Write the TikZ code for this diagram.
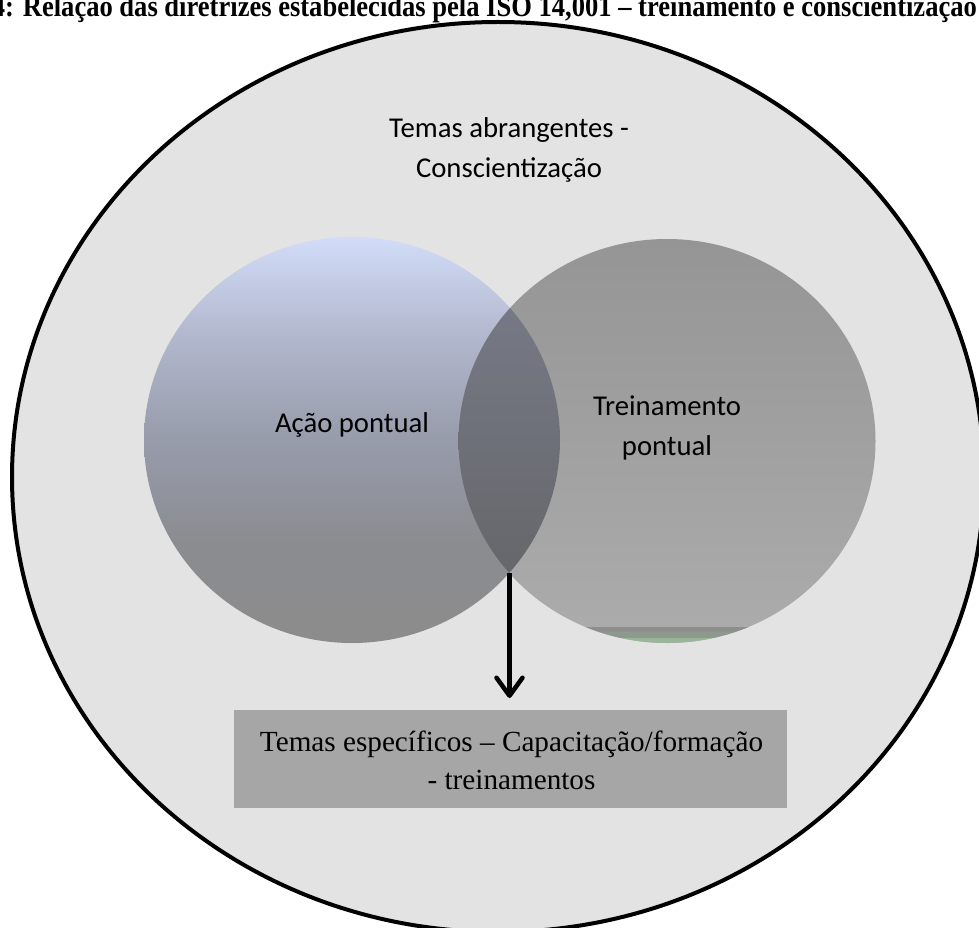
\documentclass[tikz,border=0pt]{standalone}
\usepackage{fontspec}
\setmainfont{Liberation Serif}
\newfontfamily\calibri{Carlito}
\usetikzlibrary{arrows.meta}

% palette
\definecolor{outerfill}{HTML}{E3E3E3}
\definecolor{boxfill}{HTML}{A6A6A6}
\definecolor{lA}{HTML}{8C8C8C}
\definecolor{lB}{HTML}{8B8C90}
\definecolor{lC}{HTML}{979CAB}
\definecolor{lD}{HTML}{B1B7CC}
\definecolor{lE}{HTML}{D2DCF8}
\definecolor{rTop}{HTML}{959595}
\definecolor{rBot}{HTML}{ACACAC}
\definecolor{mTop}{HTML}{7A7E8C}
\definecolor{mBot}{HTML}{626264}
\definecolor{bandA}{HTML}{8E8E8E}
\definecolor{bandB}{HTML}{8C998C}
\definecolor{bandC}{HTML}{9AB59A}

% blue-to-grey shading of the left set
\pgfdeclareverticalshading{leftset}{100bp}{%
  color(0bp)=(lA); color(25bp)=(lA); color(37.5bp)=(lB);
  color(50bp)=(lC); color(62.5bp)=(lD); color(75bp)=(lE); color(100bp)=(lE)}

\tikzset{
  sanslabel/.style={font=\calibri\fontsize{28.7}{40}\selectfont, anchor=base, inner sep=0pt},
  seriflabel/.style={font=\fontsize{29.2}{38}\selectfont, anchor=base, inner sep=0pt},
  topicbox/.style={fill=boxfill, draw=none, minimum width=553pt, minimum height=98pt, inner sep=0pt},
  pointer/.style={line width=4.5pt, -{Straight Barb[length=18pt,width=26pt,line cap=round,line join=round]}}
}

\begin{document}
\begin{tikzpicture}[x=1pt,y=-1pt]
\useasboundingbox (0,0) rectangle (979,928);
\clip (0,0) rectangle (979,928);

% caption line
\node[anchor=base east, inner sep=0pt, xscale=0.885,
      font=\bfseries\fontsize{30}{30}\selectfont] (caption) at (977,16.5)
  {4: Relação das diretrizes estabelecidas pela ISO 14,001 – treinamento e conscientização};

% outer set
\draw[line width=4pt, fill=outerfill] (498,477) ellipse [x radius=486, y radius=455];

% left set
\shade[shading=leftset] (352,440) ellipse [x radius=208, y radius=203];

% right set
\shade[top color=rTop, bottom color=rBot] (667,441) ellipse [x radius=208.5, y radius=202];
\begin{scope}
  \clip (667,441) ellipse [x radius=208.5, y radius=202];
  \fill[bandA] (440,627) rectangle (900,632);
  \fill[bandB] (440,632) rectangle (900,638);
  \fill[bandC] (440,638) rectangle (900,650);
\end{scope}

% overlap of the two sets
\begin{scope}
  \clip (352,440) ellipse [x radius=208, y radius=203];
  \shade[top color=mTop, bottom color=mBot] (667,441) ellipse [x radius=208.5, y radius=202];
\end{scope}

% labels
\node[sanslabel] (wide1) at (509,138) {Temas abrangentes -};
\node[sanslabel] (wide2) at (509,178) {Conscientização};
\node[sanslabel] (acao) at (352,432) {Ação pontual};
\node[sanslabel] (trein1) at (667,415) {Treinamento};
\node[sanslabel] (trein2) at (667,455) {pontual};

% specific topics box
\node[topicbox] (topics) at (510.5,759) {};
\node[seriflabel] (topics1) at (511.5,751) {Temas específicos – Capacitação/formação};
\node[seriflabel] (topics2) at (511.5,789) {- treinamentos};

% arrow from the overlap down to the box
\coordinate (lensbottom) at (509.5,573);
\coordinate (arrowtip) at (509.5,698);
\draw[pointer] (lensbottom) -- (arrowtip);
\end{tikzpicture}
\end{document}
